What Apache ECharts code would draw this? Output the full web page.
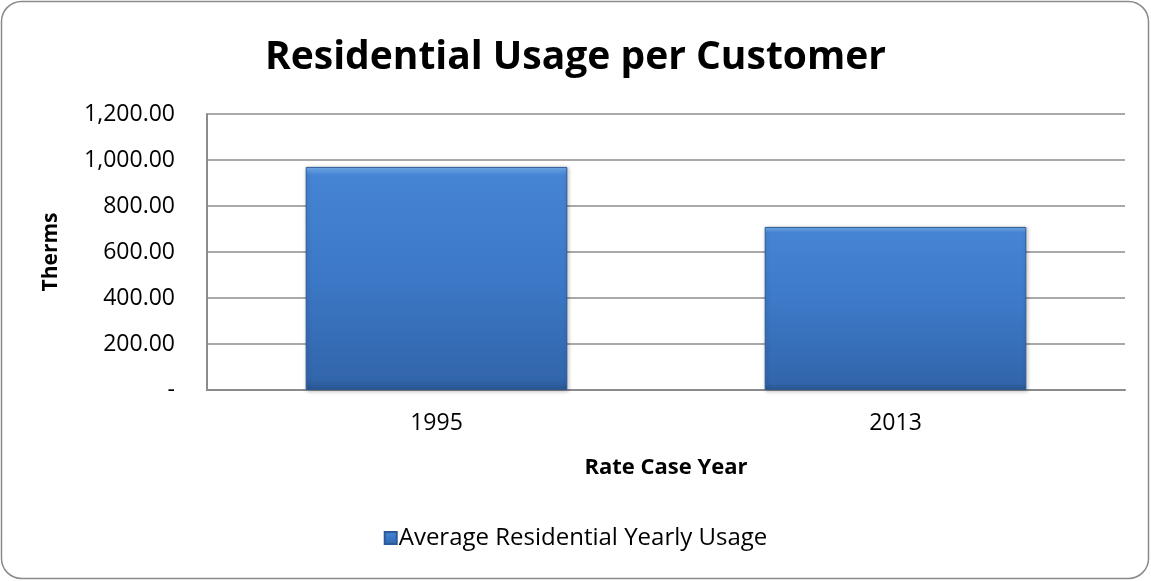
<!DOCTYPE html>
<html>
<head>
<meta charset="utf-8">
<script src="https://cdn.jsdelivr.net/npm/echarts@6/dist/echarts.min.js"></script>
<style>
  html, body { margin: 0; padding: 0; background: #fff; }
  #chart { width: 1151px; height: 581px; }
</style>
</head>
<body>
<div id="chart"></div>
<script>
// data
const years = ['1995', '2013'];
const usage = [970, 709];
const seriesName = 'Average Residential Yearly Usage';

const font = '"Open Sans", "Liberation Sans", sans-serif';

const barColor = {
  type: 'linear', x: 0, y: 0, x2: 0, y2: 1,
  colorStops: [
    { offset: 0, color: '#78b0f0' },
    { offset: 0.035, color: '#4685d4' },
    { offset: 0.5, color: '#3c78c6' },
    { offset: 0.95, color: '#3266ac' },
    { offset: 1, color: '#2a5792' }
  ]
};

function fmt(v) {
  if (v === 0) return '-';
  return v.toLocaleString('en-US', { minimumFractionDigits: 2, maximumFractionDigits: 2 });
}

const chart = echarts.init(document.getElementById('chart'), null, { renderer: 'canvas' });

chart.setOption({
  animation: false,
  textStyle: { fontFamily: font },
  title: {
    text: 'Residential Usage per Customer',
    left: 'center',
    top: 33,
    textStyle: { fontFamily: font, fontWeight: 'bold', fontSize: 39, color: '#000' }
  },
  graphic: [{
    type: 'rect',
    shape: { x: 1.5, y: 1.5, width: 1147, height: 577, r: 20 },
    style: { fill: 'none', stroke: '#8a8a8a', lineWidth: 1.5 },
    silent: true, z: -1
  }],
  legend: {
    bottom: 26,
    left: 'center',
    itemWidth: 12,
    itemHeight: 12,
    itemGap: 4,
    icon: 'rect',
    textStyle: { fontFamily: font, fontSize: 24, color: '#000', padding: [0, 0, 0, -3] },
    data: [seriesName]
  },
  grid: { left: 207, right: 26, top: 114, bottom: 191, containLabel: false },
  xAxis: {
    type: 'category',
    data: years,
    name: 'Rate Case Year',
    nameLocation: 'middle',
    nameGap: 67,
    nameTextStyle: { fontFamily: font, fontWeight: 'bold', fontSize: 22, color: '#000' },
    axisLine: { lineStyle: { color: '#8c8c8c', width: 2 } },
    axisTick: { show: false },
    axisLabel: { fontFamily: font, fontSize: 23, color: '#000', margin: 22 }
  },
  yAxis: {
    type: 'value',
    min: 0,
    max: 1200,
    interval: 200,
    name: 'Therms',
    nameLocation: 'middle',
    nameGap: 145,
    nameRotate: 90,
    nameTextStyle: { fontFamily: font, fontWeight: 'bold', fontSize: 21, color: '#000' },
    axisLine: { show: true, lineStyle: { color: '#8c8c8c', width: 2 } },
    axisTick: { show: false },
    axisLabel: { fontFamily: font, fontSize: 23, color: '#000', margin: 32, formatter: fmt },
    splitLine: { lineStyle: { color: '#8c8c8c', width: 1.5 } }
  },
  series: [{
    name: seriesName,
    type: 'bar',
    data: usage,
    barCategoryGap: '43%',
    itemStyle: {
      color: barColor,
      borderColor: '#2d5a96',
      borderWidth: 1,
      shadowColor: 'rgba(0,0,0,0.25)',
      shadowBlur: 4,
      shadowOffsetX: 1,
      shadowOffsetY: 1
    }
  }]
});
</script>
</body>
</html>
